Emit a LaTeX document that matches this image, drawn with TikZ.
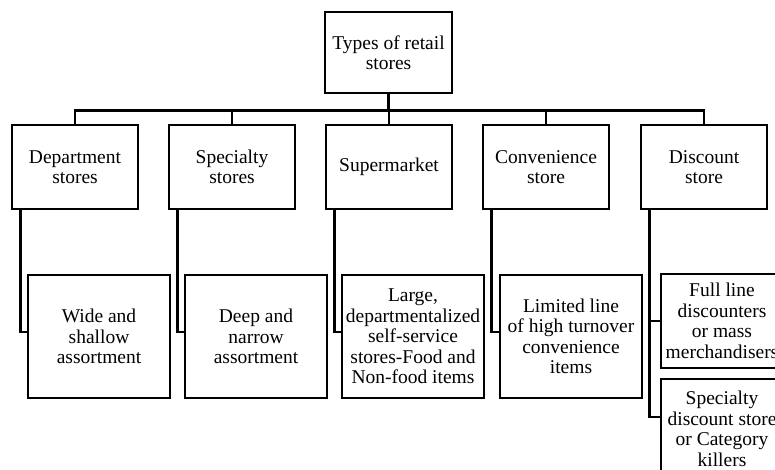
\documentclass[tikz,border=0pt]{standalone}
\usepackage{fontspec}
\setmainfont{Liberation Serif}
\usetikzlibrary{positioning}

\begin{document}
\begin{tikzpicture}[x=1pt, y=-1pt,
    box/.style={draw, line width=2.7pt, align=center, inner sep=0pt,
      font=\fontsize{19.5}{20.5}\selectfont},
    typebox/.style={box, minimum width=126pt, minimum height=84pt},
    descbox/.style={box, minimum width=142pt, minimum height=123pt},
    discbox/.style={box, minimum width=122pt},
    link/.style={line width=2.7pt}]
  \useasboundingbox (0,0) rectangle (775,469);

  % root
  \node[box, minimum width=127pt, minimum height=81pt] (root) at (388.5,52.5)
    {Types of retail\\stores};

  % store types
  \node[typebox] (dept) at (75,167) {Department\\stores};
  \node[typebox] (spec) at (232,167) {Specialty\\stores};
  \node[typebox] (super) at (389,167) {Supermarket};
  \node[typebox] (conv) at (546,167) {Convenience\\store};
  \node[typebox] (disc) at (704,167) {Discount\\store};

  % assortments
  \node[descbox] (deptd) at (99,336.5) {Wide and\\shallow\\assortment};
  \node[descbox] (specd) at (256,336.5) {Deep and\\narrow\\assortment};
  \node[descbox] (superd) at (413,336.5)
    {Large,\\departmentalized\\self-service\\stores-Food and\\Non-food items};
  \node[descbox] (convd) at (571,336.5)
    {Limited line\\of high turnover\\convenience\\items};
  \node[discbox, minimum height=94pt] (full) at (722,321)
    {Full line\\discounters\\or mass\\merchandisers};
  \node[discbox, minimum height=100pt] (catk) at (722,429)
    {Specialty\\discount store\\or Category\\killers};

  \foreach \n in {dept,spec,super,conv,disc}
    \draw[link] (root.south) -- ++(0,16) -| (\n.north);

  \foreach \a/\b in {dept/deptd,spec/specd,super/superd,conv/convd}
    \draw[link] ([xshift=10pt]\a.south west) |- ([yshift=4.5pt]\b.west);

  \draw[link] ([xshift=10pt]disc.south west) |- (full.west);
  \draw[link] ([xshift=10pt]disc.south west) |- ([yshift=12pt]catk.west);
\end{tikzpicture}
\end{document}
